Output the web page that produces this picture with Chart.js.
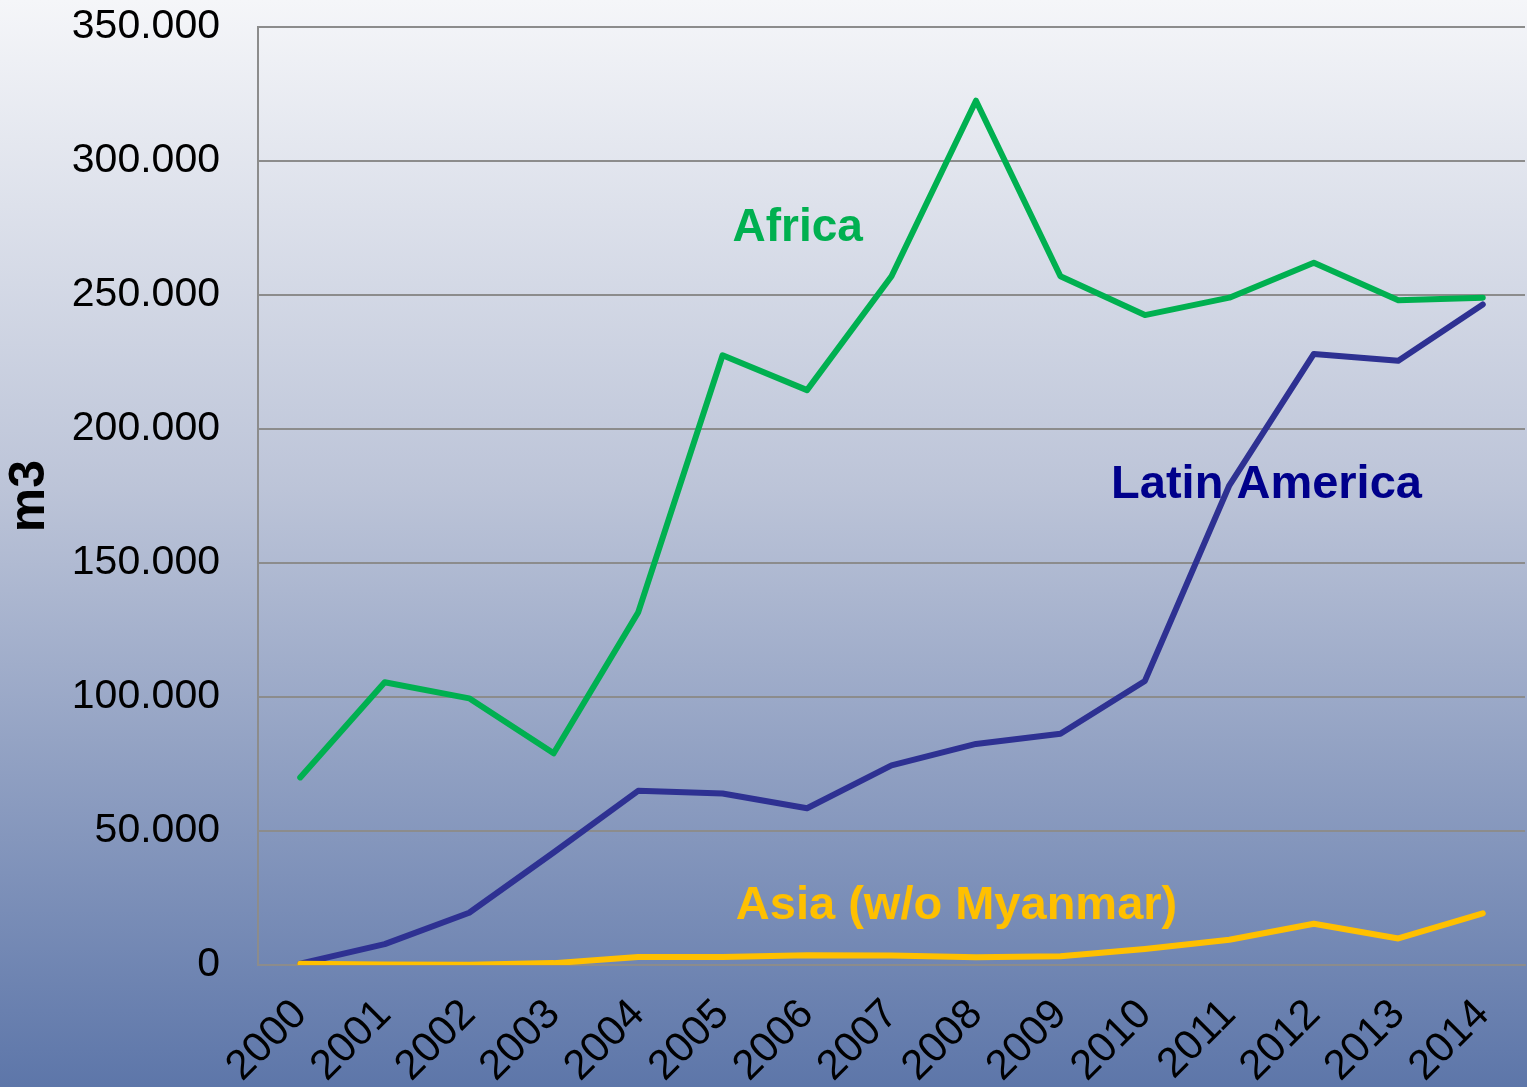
<!DOCTYPE html>
<html>
<head>
<meta charset="utf-8">
<script src="https://cdn.jsdelivr.net/npm/chart.js@4.4.1/dist/chart.umd.min.js"></script>
<style>
    body { margin: 0; }
    #wrap {
        width: 1527px;
        height: 1087px;
        background: linear-gradient(to bottom, #f5f6f9 0%, #bcc4d8 45%, #5d76a9 100%);
    }
</style>
</head>
<body>
<div id="wrap"><canvas id="timber-chart" width="1527" height="1087"></canvas></div>
<script>
const years = ['2000', '2001', '2002', '2003', '2004', '2005', '2006', '2007',
    '2008', '2009', '2010', '2011', '2012', '2013', '2014'];

// m3 per year
const africa = [70000, 105500, 99500, 79000, 131500, 227500, 214500, 257000,
    322500, 257000, 242500, 249000, 262000, 248000, 249000];
const latinAmerica = [500, 7800, 19500, 42000, 65000, 64000, 58500, 74500,
    82500, 86300, 106000, 179000, 228000, 225500, 246500];
const asia = [500, 200, 100, 700, 3000, 3000, 3600, 3500,
    2900, 3300, 6000, 9400, 15400, 9900, 19300];

const yTicks = [0, 50000, 100000, 150000, 200000, 250000, 300000, 350000];

// series names written inside the plot (category index, value)
const seriesLabels = [
    {text: 'Africa', color: '#00b050', x: 5.89, y: 275000, size: 46},
    {text: 'Latin America', color: '#00008b', x: 11.44, y: 179000, size: 47},
    {text: 'Asia (w/o Myanmar)', color: '#ffc000', x: 7.77, y: 22000, size: 47}
];

const fmt = v => String(v).replace(/\B(?=(\d{3})+(?!\d))/g, '.');

const labelPlugin = {
    id: 'seriesLabels',
    beforeDatasetsDraw(chart) {
        const {ctx, scales: {x, y}} = chart;
        ctx.save();
        ctx.textAlign = 'center';
        ctx.textBaseline = 'middle';
        seriesLabels.forEach(l => {
            ctx.font = `bold ${l.size}px "Liberation Sans", Arial, sans-serif`;
            ctx.fillStyle = l.color;
            ctx.fillText(l.text, x.getPixelForValue(l.x), y.getPixelForValue(l.y));
        });
        ctx.restore();
    }
};

const lineStyle = {
    borderWidth: 6,
    pointRadius: 0,
    tension: 0,
    borderCapStyle: 'round',
    borderJoinStyle: 'round'
};

const data = {
    labels: years,
    datasets: [
        {label: 'Asia (w/o Myanmar)', data: asia, borderColor: '#ffc000', ...lineStyle},
        {label: 'Latin America', data: latinAmerica, borderColor: '#2e3192', ...lineStyle},
        {label: 'Africa', data: africa, borderColor: '#00b050', ...lineStyle}
    ]
};

const config = {
    type: 'line',
    data: data,
    plugins: [labelPlugin],
    options: {
        responsive: false,
        animation: false,
        layout: {padding: {top: 27, right: 2, left: 0, bottom: 0}},
        plugins: {legend: {display: false}, tooltip: {enabled: false}},
        scales: {
            x: {
                offset: true,
                grid: {display: false, drawTicks: false},
                border: {color: '#8c8c8c', width: 2},
                ticks: {
                    color: '#000',
                    font: {family: '"Liberation Sans", Arial, sans-serif', size: 42},
                    minRotation: 45,
                    maxRotation: 45,
                    padding: 25,
                    autoSkip: false
                },
                afterFit: scale => {
                    scale.height = 122;
                    scale.paddingLeft = 0;
                    scale.paddingRight = 0;
                }
            },
            y: {
                min: 0,
                max: 350000,
                afterBuildTicks: scale => { scale.ticks = yTicks.map(v => ({value: v})); },
                grid: {color: '#8c8c8c', lineWidth: 2, drawTicks: false},
                border: {color: '#8c8c8c', width: 2},
                ticks: {
                    color: '#000',
                    font: {family: '"Liberation Sans", Arial, sans-serif', size: 41},
                    padding: 38,
                    callback: v => fmt(v)
                },
                title: {
                    display: true,
                    text: 'm3',
                    color: '#000',
                    font: {family: '"Liberation Sans", Arial, sans-serif', size: 50, weight: 'bold'},
                    padding: {top: 0, bottom: 0}
                },
                afterFit: scale => {
                    scale.width = 258;
                    scale.paddingTop = 0;
                    scale.paddingBottom = 0;
                }
            }
        }
    }
};

const myChart = new Chart(document.getElementById('timber-chart'), config);
</script>
</body>
</html>
